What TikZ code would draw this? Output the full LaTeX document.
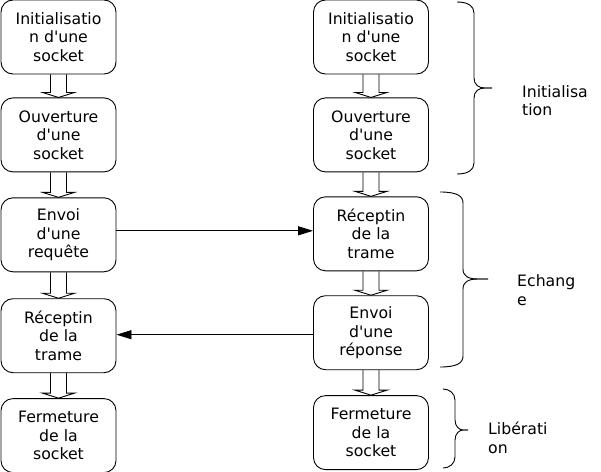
\documentclass[tikz,border=0pt]{standalone}
\usepackage{fontspec}
\setmainfont{DejaVu Sans}[Ligatures=TeXOff]
\usetikzlibrary{positioning, arrows.meta, calc}
\tikzstyle{etape} = [rectangle, rounded corners=12pt, minimum width=115pt, minimum height=74pt, inner sep=0pt, align=center, draw=black, line width=0.9pt, font=\fontsize{15.7}{18.5}\selectfont]
\tikzstyle{arrow} = [line width=0.9pt, -{Triangle[length=15pt,width=9pt]}]
\tikzstyle{creux} = [line width=0.9pt, to path={let \p1=(\tikztostart), \p2=(\tikztotarget) in (\x1-8pt,\y1) -- (\x1-8pt,\y2+5pt) -- (\x1-16pt,\y2+5pt) -- (\x1,\y2) -- (\x1+16pt,\y2+5pt) -- (\x1+8pt,\y2+5pt) -- (\x1+8pt,\y1)}]
\tikzstyle{accolade} = [line width=0.9pt]
\tikzstyle{phase} = [anchor=north west, inner sep=0pt, align=left, font=\fontsize{15.7}{18.5}\selectfont]
% x0, spine, tip, top, middle, bottom
\newcommand{\accolade}[6]{%
\draw [accolade] (#1,#4) .. controls ({#2-6},#4) and (#2,{#4+4}) .. (#2,{#4+11}) -- (#2,{#5-10}) .. controls (#2,{#5-3}) and ({#2+5},#5) .. ({#2+0.6*(#3-#2)},#5) -- (#3,#5);
\draw [accolade] (#3,#5) -- ({#2+0.6*(#3-#2)},#5) .. controls ({#2+5},#5) and (#2,{#5+3}) .. (#2,{#5+10}) -- (#2,{#6-11}) .. controls (#2,{#6-4}) and ({#2-6},#6) .. (#1,#6);
}

\begin{document}
\begin{tikzpicture}[x=1pt, y=-1pt]
\useasboundingbox (0,0) rectangle (601,471);

% client
\node (initG) [etape] at (58.5,37) {Initialisatio\\n d'une\\socket};
\node (ouvG) [etape, below=23pt of initG] {Ouverture\\d'une\\socket};
\node (envG) [etape, below=25pt of ouvG] {Envoi\\d'une\\requête};
\node (recG) [etape, below=26pt of envG] {Réceptin\\de la\\trame};
\node (fermG) [etape, below=25pt of recG] {Fermeture\\de la\\socket};

% serveur
\node (initD) [etape] at (371,37) {Initialisatio\\n d'une\\socket};
\node (ouvD) [etape, below=23pt of initD] {Ouverture\\d'une\\socket};
\node (recD) [etape, below=24pt of ouvD] {Réceptin\\de la\\trame};
\node (envD) [etape, below=24pt of recD] {Envoi\\d'une\\réponse};
\node (fermD) [etape, below=25pt of envD] {Fermeture\\de la\\socket};

\foreach \a/\b in {initG/ouvG, ouvG/envG, envG/recG, recG/fermG, initD/ouvD, ouvD/recD, recD/envD, envD/fermD}
  \draw [creux] (\a.south) to (\b.north);

\draw [arrow] ([yshift=4pt]envG.east) -- ([yshift=4pt]envG.east -| recD.west);
\draw [arrow] ([yshift=1pt]recG.east -| envD.west) -- ([yshift=1pt]recG.east);

% phases
\accolade{457}{474}{492}{2}{88}{174}
\accolade{440}{463}{488}{192}{279}{367}
\accolade{443}{455}{468}{389}{430}{468}
\node (lblInit) [phase] at (522,85) {Initialisa\\tion};
\node (lblEch) [phase] at (517,274.5) {Echang\\e};
\node (lblLib) [phase] at (488,422) {Libérati\\on};

\end{tikzpicture}
\end{document}
